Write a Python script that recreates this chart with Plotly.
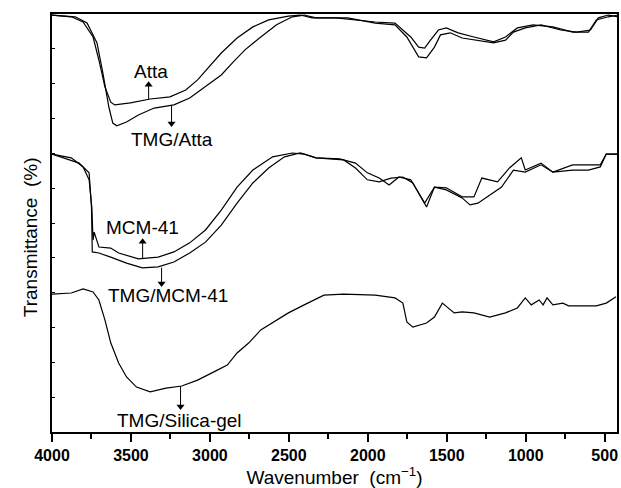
import plotly.graph_objects as go

# ---- data (wavenumber cm^-1, transmittance in offset arbitrary units) ----
atta_x = [4000, 3878, 3803, 3740, 3703, 3665, 3628, 3603, 3503, 3378, 3253, 3153, 3078, 3003, 2928, 2828, 2728, 2628, 2503, 2428, 2353, 2203, 2078, 1953, 1828, 1778, 1728, 1678, 1640, 1603, 1553, 1503, 1428, 1328, 1203, 1128, 1053, 953, 828, 703, 603, 553, 478, 415]
atta_y = [119.7, 119.2, 117.7, 113.4, 106.8, 99.1, 94.7, 93.9, 94.5, 95.6, 96.2, 98.2, 101.1, 104.8, 108.8, 113.1, 116.3, 118.3, 119.4, 119.7, 118.9, 118.9, 118.3, 117.7, 117.4, 115.4, 113.4, 110.5, 110.2, 112.5, 115.4, 116.0, 114.6, 113.4, 112.0, 113.4, 116.0, 116.9, 116.3, 114.8, 114.8, 118.3, 119.2, 119.7]

tmg_atta_x = [4000, 3853, 3778, 3715, 3678, 3640, 3615, 3590, 3528, 3453, 3353, 3228, 3128, 3028, 2928, 2853, 2778, 2678, 2578, 2478, 2403, 2328, 2128, 1953, 1828, 1753, 1703, 1678, 1628, 1578, 1540, 1478, 1403, 1303, 1203, 1128, 1078, 1003, 903, 778, 678, 590, 540, 478, 415]
tmg_atta_y = [119.7, 119.2, 117.4, 111.7, 103.1, 93.3, 88.7, 87.9, 89.0, 91.0, 93.0, 93.9, 95.9, 99.1, 102.5, 106.2, 109.7, 113.4, 116.9, 119.2, 119.7, 118.9, 118.9, 117.4, 116.9, 113.4, 109.7, 107.7, 107.4, 110.5, 114.0, 114.6, 113.1, 112.5, 111.7, 112.5, 114.8, 116.0, 116.9, 115.4, 114.8, 115.4, 118.9, 119.7, 119.2]

mcm_x = [4000, 3878, 3803, 3765, 3748, 3740, 3733, 3703, 3628, 3578, 3453, 3328, 3228, 3128, 3028, 2928, 2828, 2728, 2603, 2478, 2403, 2328, 2178, 2078, 2003, 1928, 1865, 1803, 1728, 1678, 1640, 1578, 1503, 1403, 1328, 1278, 1178, 1103, 1028, 1003, 903, 828, 703, 528, 490, 415]
mcm_y = [79.8, 78.7, 76.1, 72.4, 64.6, 55.1, 57.4, 53.1, 52.8, 51.4, 49.7, 50.2, 51.7, 54.3, 58.0, 63.7, 70.3, 75.2, 79.0, 80.1, 79.8, 78.7, 78.4, 77.2, 74.4, 72.9, 70.9, 73.2, 72.4, 68.6, 65.7, 70.3, 70.1, 67.5, 67.5, 72.9, 71.8, 75.8, 78.7, 75.2, 77.2, 74.6, 76.7, 76.7, 79.8, 79.8]

tmg_mcm_x = [4000, 3828, 3765, 3750, 3745, 3703, 3628, 3528, 3428, 3328, 3228, 3128, 3028, 2928, 2828, 2728, 2628, 2528, 2428, 2328, 2153, 2078, 2003, 1928, 1853, 1778, 1715, 1665, 1628, 1578, 1503, 1403, 1353, 1303, 1228, 1153, 1078, 1003, 903, 828, 703, 603, 528, 490, 415]
tmg_mcm_y = [79.8, 77.2, 74.4, 64.6, 51.7, 51.4, 50.2, 48.5, 47.1, 47.4, 48.8, 51.4, 54.5, 59.4, 65.7, 71.5, 75.8, 79.0, 80.1, 78.7, 78.1, 75.8, 72.4, 71.8, 72.9, 73.2, 71.5, 67.5, 64.6, 70.3, 69.5, 67.2, 65.2, 65.7, 68.0, 70.3, 75.2, 74.6, 76.7, 74.6, 75.2, 75.2, 76.1, 79.8, 79.8]

silica_x = [4000, 3878, 3803, 3740, 3703, 3665, 3628, 3578, 3528, 3465, 3378, 3278, 3178, 3078, 2978, 2890, 2828, 2753, 2678, 2578, 2503, 2403, 2278, 2153, 1953, 1828, 1778, 1753, 1715, 1628, 1578, 1528, 1490, 1453, 1403, 1328, 1228, 1128, 1053, 1003, 965, 915, 890, 865, 828, 765, 728, 553, 490, 428]
silica_y = [39.6, 39.9, 41.1, 40.2, 37.9, 32.2, 25.6, 19.8, 15.8, 12.9, 11.5, 12.6, 13.2, 14.9, 17.2, 19.2, 22.7, 25.6, 29.3, 32.2, 34.2, 36.5, 39.3, 39.6, 39.3, 38.5, 37.0, 31.6, 30.1, 31.3, 33.0, 37.0, 35.6, 34.2, 34.5, 34.2, 33.0, 34.2, 35.6, 38.5, 36.5, 37.9, 36.5, 38.5, 36.5, 37.0, 36.2, 36.2, 37.0, 38.8]

x_tick_vals = [4000, 3500, 3000, 2500, 2000, 1500, 1000, 500]
x_tick_text = ["4000", "3500", "3000", "2500", "2000", "1500", "1000", "500"]

labels = ["Atta", "TMG/Atta", "MCM-41", "TMG/MCM-41", "TMG/Silica-gel"]
label_x = [3375, 3243, 3426, 3268, 3192]
label_y = [103.6, 83.9, 58.6, 39.3, 3.2]
arrow_x = [3388, 3243, 3426, 3306, 3186]
arrow_head_y = [99.7, 88.6, 54.6, 42.6, 7.3]
arrow_tail_y = [95.6, 93.9, 49.7, 47.2, 13.2]

FONT = "Liberation Sans, Arial, sans-serif"

fig = go.Figure()
for xs, ys, nm in [(atta_x, atta_y, "Atta"), (tmg_atta_x, tmg_atta_y, "TMG/Atta"),
                   (mcm_x, mcm_y, "MCM-41"), (tmg_mcm_x, tmg_mcm_y, "TMG/MCM-41"),
                   (silica_x, silica_y, "TMG/Silica-gel")]:
    fig.add_trace(go.Scatter(x=xs, y=ys, mode="lines", name=nm,
                             line=dict(color="black", width=1.2), showlegend=False,
                             hoverinfo="skip"))

# arrow shafts and heads
for axx, hy, ty in zip(arrow_x, arrow_head_y, arrow_tail_y):
    up = hy > ty
    fig.add_trace(go.Scatter(x=[axx, axx], y=[ty, hy], mode="lines",
                             line=dict(color="black", width=1), showlegend=False,
                             hoverinfo="skip"))
    fig.add_trace(go.Scatter(x=[axx], y=[hy], mode="markers",
                             marker=dict(symbol="triangle-up" if up else "triangle-down",
                                         size=7, color="black",
                                         line=dict(width=0)),
                             showlegend=False, hoverinfo="skip"))

for t, lx, ly in zip(labels, label_x, label_y):
    fig.add_annotation(x=lx, y=ly, text=t, showarrow=False,
                       font=dict(family=FONT, size=19, color="black"))

# y-axis title placed as in the reference (slightly below centre)
fig.add_annotation(xref="paper", yref="paper", x=-0.06, y=0.465,
                   text="Transmittance  (%)", textangle=-90, showarrow=False,
                   font=dict(family=FONT, size=19, color="black"))

fig.update_layout(
    width=621, height=488,
    margin=dict(l=52, r=2, t=14, b=56),
    plot_bgcolor="white", paper_bgcolor="white",
    font=dict(family=FONT, color="black"),
    xaxis=dict(range=[4000, 422], tickvals=x_tick_vals, ticktext=x_tick_text,
               ticks="outside", ticklen=8, tickwidth=1.5, tickcolor="black",
               tickfont=dict(family=FONT, size=16, color="black", weight="bold"),
               showline=True, linecolor="black", linewidth=2, mirror=True,
               showgrid=False, zeroline=False,
               minor=dict(dtick=250, tick0=0, ticks="outside", ticklen=5, tickwidth=1.5, tickcolor="black"),
               title=dict(text="Wavenumber  (cm<sup>\u22121</sup>)", font=dict(family=FONT, size=19, color="black"), standoff=4)),
    yaxis=dict(range=[0, 120], dtick=10, tick0=0, ticks="inside", ticklen=3, tickcolor="black",
               showticklabels=False, showline=True, linecolor="black", linewidth=2, mirror=True,
               showgrid=False, zeroline=False),
)

fig.write_html("out.html")
